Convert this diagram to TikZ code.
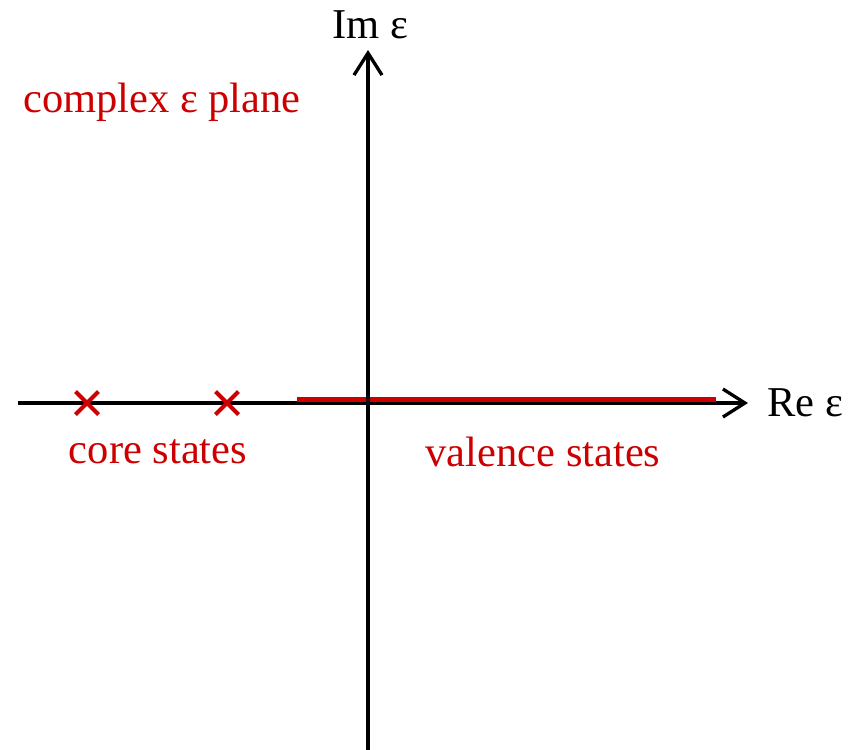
\documentclass[tikz,border=0pt]{standalone}
\usepackage{fontspec}
\setmainfont{Liberation Serif}
\usetikzlibrary{arrows.meta,shapes.misc}
\definecolor{cred}{RGB}{204,0,0}
\tikzset{
  axis/.style={line width=3.3pt,-{Straight Barb[length=22pt,width=28pt,line width=3.3pt]}},
  lbl/.style={font=\fontsize{42.5}{46}\selectfont, inner sep=0pt},
  redlbl/.style={lbl, text=cred},
  pole/.style={cross out, draw=cred, line width=4pt, minimum size=19pt, inner sep=0pt}
}
\begin{document}
\begin{tikzpicture}[x=1pt,y=-1pt]
\useasboundingbox (0,0) rectangle (863,750);
\coordinate (xl) at (18,403);
\coordinate (xr) at (748,403);
\coordinate (yb) at (368,750);
\coordinate (yt) at (368,50);
\coordinate (cutl) at (297,399.5);
\coordinate (cutr) at (716,399.5);
\draw[axis] (xl) -- (xr);
\draw[axis] (yb) -- (yt);
\draw[cred, line width=5.2pt] (cutl) -- (cutr);
\draw[line width=3.3pt] (368,395) -- (368,406);
\node[pole] (p1) at (87,403) {};
\node[pole] (p2) at (227,403) {};
\node[lbl] (im) at (370,25) {Im ε};
\node[lbl, anchor=west] (re) at (767,403) {Re ε};
\node[redlbl] (cplx) at (162,102) {complex ε plane};
\node[redlbl] (core) at (158,452) {core states};
\node[redlbl] (val) at (543,452) {valence states};
\end{tikzpicture}
\end{document}
